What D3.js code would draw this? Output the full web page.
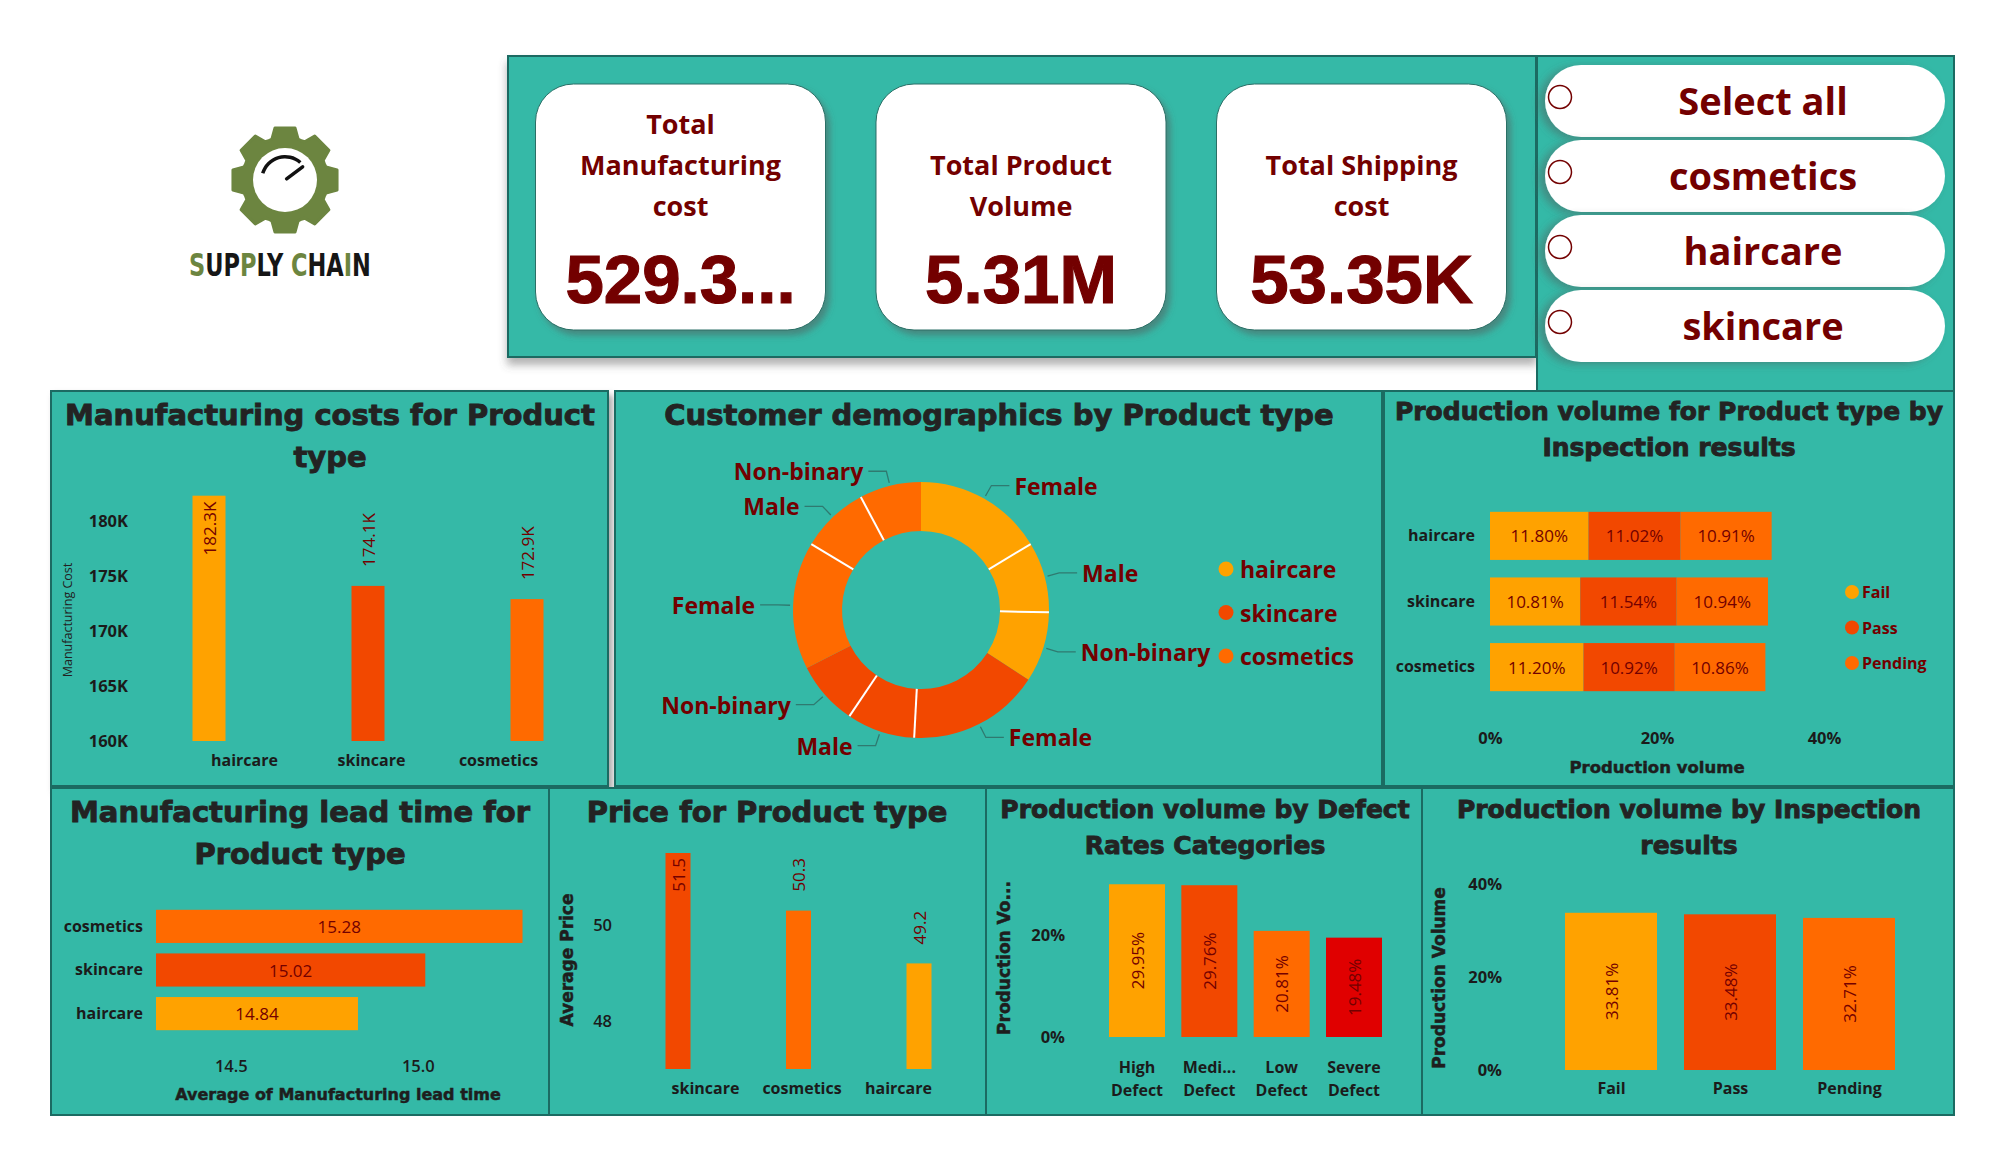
<!DOCTYPE html>
<html>
<head>
<meta charset="utf-8">
<script src="https://cdn.jsdelivr.net/npm/d3@7"></script>
<style>
  body { margin: 0; background: #fff; }
  svg text { font-family: "Open Sans", "Noto Sans", sans-serif; }
  .ttl { font-family: "DejaVu Sans", sans-serif !important; font-weight: bold; fill: #232323; stroke: #232323; stroke-width: 0.9px; }
  .axt { font-family: "DejaVu Sans", sans-serif !important; font-weight: bold; fill: #1e1e1e; stroke: #1e1e1e; stroke-width: 0.5px; }
</style>
</head>
<body>
<svg id="dash" width="1992" height="1152"></svg>
<script>
// ---- data ----
var productTypes = ['haircare', 'skincare', 'cosmetics'];
var typeColors = ['#FFA200', '#F24800', '#FF6A00'];

var kpiTitles = [['Total', 'Manufacturing', 'cost'], ['Total Product', 'Volume'], ['Total Shipping', 'cost']];
var kpiValues = ['529.3...', '5.31M', '53.35K'];

var slicerItems = ['Select all', 'cosmetics', 'haircare', 'skincare'];

var costTypes = ['haircare', 'skincare', 'cosmetics'];
var costValues = [182.3, 174.1, 172.9];          // thousands
var costTicks = [160, 165, 170, 175, 180];

var genders = ['Female', 'Male', 'Non-binary'];
var demoHaircare = [16.4, 8.9, 8.9];
var demoSkincare = [16.7, 8.6, 8.1];
var demoCosmetics = [16.1, 8.6, 7.8];

var inspResults = ['Fail', 'Pass', 'Pending'];
var inspHaircare = [11.80, 11.02, 10.91];
var inspSkincare = [10.81, 11.54, 10.94];
var inspCosmetics = [11.20, 10.92, 10.86];
var inspTicks = [0, 20, 40];

var leadTypes = ['cosmetics', 'skincare', 'haircare'];
var leadValues = [15.28, 15.02, 14.84];
var leadTicks = [14.5, 15.0];

var priceTypes = ['skincare', 'cosmetics', 'haircare'];
var priceValues = [51.5, 50.3, 49.2];
var priceTicks = [48, 50];

var defectCats = ['High Defect', 'Medium Defect', 'Low Defect', 'Severe Defect'];
var defectLabels = [['High', 'Defect'], ['Medi...', 'Defect'], ['Low', 'Defect'], ['Severe', 'Defect']];
var defectValues = [29.95, 29.76, 20.81, 19.48];
var defectColors = ['#FFA200', '#F24800', '#FF6A00', '#E00000'];
var defectTicks = [0, 20];

var inspTotals = [33.81, 33.48, 32.71];
var inspTotalTicks = [0, 20, 40];

// ---- setup ----
var svg = d3.select('#dash');
var TEAL = '#34B9A7', EDGE = '#1B6B62', MAROON = '#730000', INK = '#1b1b1b';

var typeColor = d3.scaleOrdinal().domain(productTypes).range(typeColors);
var inspColor = d3.scaleOrdinal().domain(inspResults).range(typeColors);
var defectColor = d3.scaleOrdinal().domain(defectCats).range(defectColors);

var defs = svg.append('defs');
function shadow(id, dx, dy, blur, op) {
  var f = defs.append('filter').attr('id', id)
    .attr('x', '-20%').attr('y', '-20%').attr('width', '140%').attr('height', '150%');
  f.append('feDropShadow').attr('dx', dx).attr('dy', dy).attr('stdDeviation', blur)
    .attr('flood-color', '#555').attr('flood-opacity', op);
}
shadow('sh-panel', 0, 7, 4, 0.45);
shadow('sh-card', 4, 5, 3, 0.5);
shadow('sh-pill', -6, 2, 4, 0.45);

function panel(x0, y0, x1, y1, filt) {
  var r = svg.append('rect').attr('x', x0).attr('y', y0)
    .attr('width', x1 - x0).attr('height', y1 - y0)
    .attr('fill', TEAL).attr('stroke', EDGE).attr('stroke-width', 2);
  if (filt) r.attr('filter', 'url(#' + filt + ')');
}

function title(lines, cx, y0, size, lh) {
  lines.forEach(function(t, i) {
    svg.append('text').attr('class', 'ttl')
      .attr('x', cx).attr('y', y0 + i * lh)
      .attr('text-anchor', 'middle').attr('dominant-baseline', 'central')
      .style('font-size', size + 'px').text(t);
  });
}

function axisTitle(s, x, y, size, rot) {
  svg.append('text').attr('class', 'axt')
    .attr('transform', 'translate(' + x + ',' + y + ')' + (rot ? ' rotate(-90)' : ''))
    .attr('text-anchor', 'middle').attr('dominant-baseline', 'central')
    .style('font-size', size + 'px').text(s);
}

function tidy(g, size, weight) {
  g.select('.domain').remove();
  g.selectAll('.tick line').remove();
  g.selectAll('.tick text').attr('fill', INK)
    .style('font-size', size + 'px').style('font-weight', weight || 700);
}

function vlabel(x, y, s, anchor, size) {
  svg.append('text')
    .attr('transform', 'translate(' + x + ',' + y + ') rotate(-90)')
    .attr('text-anchor', anchor).attr('dominant-baseline', 'central')
    .attr('fill', MAROON).style('font-size', size + 'px').text(s);
}

// ---- logo ----
var gx = 285, gy = 180;
var gearPts = [];
d3.range(8).forEach(function(i) {
  var a = i * Math.PI / 4;
  gearPts.push([a - 0.31, 43], [a - 0.19, 53], [a + 0.19, 53], [a + 0.31, 43], [a + Math.PI / 8, 42.5]);
});
svg.append('path')
  .attr('transform', 'translate(' + gx + ',' + gy + ')')
  .attr('d', d3.lineRadial().angle(function(d) { return d[0]; }).radius(function(d) { return d[1]; })
    .curve(d3.curveLinearClosed)(gearPts))
  .attr('fill', '#6C8540').attr('stroke', '#6C8540').attr('stroke-width', 3).attr('stroke-linejoin', 'round');
svg.append('circle').attr('cx', gx).attr('cy', gy).attr('r', 32).attr('fill', '#fff');
svg.append('path')
  .attr('transform', 'translate(' + gx + ',' + gy + ')')
  .attr('d', d3.arc()({ innerRadius: 21.5, outerRadius: 25, startAngle: -1.28, endAngle: 0.72 }))
  .attr('fill', '#111');
var na = 0.93;
svg.append('line')
  .attr('x1', gx + Math.sin(na) * 2).attr('y1', gy - Math.cos(na) * 2)
  .attr('x2', gx + Math.sin(na) * 22).attr('y2', gy - Math.cos(na) * 22)
  .attr('stroke', '#111').attr('stroke-width', 3.5).attr('stroke-linecap', 'round');

var logoText = svg.append('text').attr('transform', 'translate(280,276) scale(1,1.3)').attr('text-anchor', 'middle')
  .style('font-family', '"DejaVu Sans Condensed", "DejaVu Sans", sans-serif').style('font-weight', 'bold')
  .style('font-size', '25px');
[['S', 1], ['UP', 0], ['P', 1], ['LY ', 0], ['C', 1], ['HA', 0], ['I', 1], ['N', 0]].forEach(function(p) {
  logoText.append('tspan').attr('fill', p[1] ? '#6C8540' : '#161616').text(p[0]);
});

// ---- KPI panel ----
panel(508, 56, 1536, 357, 'sh-panel');
var cardX = d3.scalePoint().domain(d3.range(kpiValues.length)).range([680.5, 1361.5]);
kpiValues.forEach(function(v, i) {
  var cx = cardX(i);
  svg.append('rect').attr('x', cx - 145).attr('y', 84).attr('width', 290).attr('height', 246)
    .attr('rx', 38).attr('fill', '#fff').attr('stroke', '#2a6f66').attr('stroke-width', 1)
    .attr('filter', 'url(#sh-card)');
  var lines = kpiTitles[i];
  var startY = lines.length === 3 ? 123 : 164;
  lines.forEach(function(t, j) {
    svg.append('text').attr('x', cx).attr('y', startY + j * 41)
      .attr('text-anchor', 'middle').attr('dominant-baseline', 'central')
      .attr('fill', MAROON).style('font-size', '27px').style('font-weight', 700).text(t);
  });
  svg.append('text').attr('x', cx).attr('y', 279)
    .attr('text-anchor', 'middle').attr('dominant-baseline', 'central')
    .attr('fill', MAROON).attr('stroke', MAROON).attr('stroke-width', 1.2)
    .style('font-family', '"Liberation Sans", Arial, sans-serif')
    .style('font-weight', 'bold').style('font-size', '69px').text(v);
});

// ---- slicer ----
panel(1537, 56, 1954, 391);
var pillY = d3.scalePoint().domain(slicerItems).range([101, 326]);
slicerItems.forEach(function(s) {
  var cy = pillY(s);
  svg.append('rect').attr('x', 1545).attr('y', cy - 36).attr('width', 400).attr('height', 72)
    .attr('rx', 36).attr('fill', '#fff').attr('filter', 'url(#sh-pill)');
  svg.append('circle').attr('cx', 1560).attr('cy', cy - 4).attr('r', 11.5)
    .attr('fill', '#fff').attr('stroke', MAROON).attr('stroke-width', 1.5);
  svg.append('text').attr('x', 1763).attr('y', cy - 1)
    .attr('text-anchor', 'middle').attr('dominant-baseline', 'central')
    .attr('fill', MAROON).style('font-size', '38px').style('font-weight', 700).text(s);
});

// ---- panels ----
panel(51, 391, 608, 786, 'sh-card');
panel(615, 391, 1382, 786);
panel(1384, 391, 1954, 786);
panel(51, 788, 549, 1115);
panel(549, 788, 986, 1115);
panel(986, 788, 1422, 1115);
panel(1422, 788, 1954, 1115);

// ---- chart 1: manufacturing costs ----
title(['Manufacturing costs for Product', 'type'], 330, 415, 29, 42);
var y1 = d3.scaleLinear().domain([160, 180]).range([741, 521]);
var x1 = d3.scalePoint().domain(costTypes).range([209, 527]);
var x1lab = d3.scalePoint().domain(costTypes).range([244, 498]);
svg.append('g').attr('transform', 'translate(128,0)')
  .call(d3.axisLeft(y1).tickValues(costTicks).tickSize(0).tickPadding(0).tickFormat(function(d) { return d + 'K'; }))
  .call(tidy, 16.5, 700);
svg.append('g').attr('transform', 'translate(0,755)')
  .call(d3.axisBottom(x1lab).tickSize(0).tickPadding(0))
  .call(tidy, 16, 700);
svg.append('text').attr('transform', 'translate(67,620) rotate(-90)')
  .attr('text-anchor', 'middle').attr('dominant-baseline', 'central')
  .attr('fill', '#222').style('font-size', '12.5px').text('Manufacturing Cost');
costTypes.forEach(function(t, i) {
  var top = y1(costValues[i]);
  svg.append('rect').attr('x', x1(t) - 16.5).attr('y', top).attr('width', 33)
    .attr('height', y1(160) - top).attr('fill', typeColor(t));
  var s = costValues[i].toFixed(1) + 'K';
  if (top - 19 - 58 < 495) vlabel(x1(t), top + 6, s, 'end', 17);
  else vlabel(x1(t), top - 19, s, 'start', 17);
});

// ---- chart 2: customer demographics donut ----
title(['Customer demographics by Product type'], 999, 415, 29, 0);
var demoSeries = [demoHaircare, demoSkincare, demoCosmetics];
var pieData = [];
productTypes.forEach(function(t, ti) {
  genders.forEach(function(g, gi) {
    pieData.push({ type: t, gender: g, value: demoSeries[ti][gi], first: gi === 0 });
  });
});
var dcx = 921, dcy = 610;
var arcs = d3.pie().sort(null).value(function(d) { return d.value; })(pieData);
var arc2 = d3.arc().innerRadius(79).outerRadius(128);
var donut = svg.append('g').attr('transform', 'translate(' + dcx + ',' + dcy + ')');
donut.selectAll('path.slice').data(arcs).enter().append('path').attr('class', 'slice')
  .attr('d', arc2).attr('fill', function(d) { return typeColor(d.data.type); });
arcs.forEach(function(d) {
  if (!d.data.first) {
    var a = d.startAngle;
    donut.append('line')
      .attr('x1', Math.sin(a) * 79).attr('y1', -Math.cos(a) * 79)
      .attr('x2', Math.sin(a) * 128).attr('y2', -Math.cos(a) * 128)
      .attr('stroke', '#fff').attr('stroke-width', 2);
  }
  var m = (d.startAngle + d.endAngle) / 2;
  var side = Math.sin(m) >= 0 ? 1 : -1;
  var p1 = [Math.sin(m) * 131, -Math.cos(m) * 131];
  var p2 = [Math.sin(m) * 143, -Math.cos(m) * 143];
  var p3 = [p2[0] + side * 18, p2[1]];
  donut.append('polyline').attr('points', [p1, p2, p3].map(function(p) { return p.join(','); }).join(' '))
    .attr('fill', 'none').attr('stroke', '#2f7a70').attr('stroke-width', 1.3);
  donut.append('text').attr('x', p3[0] + side * 5).attr('y', p3[1])
    .attr('text-anchor', side > 0 ? 'start' : 'end').attr('dominant-baseline', 'central')
    .attr('fill', MAROON).style('font-size', '23px').style('font-weight', 700).text(d.data.gender);
});
var leg2 = d3.scalePoint().domain(productTypes).range([569, 656]);
productTypes.forEach(function(t) {
  svg.append('circle').attr('cx', 1226).attr('cy', leg2(t)).attr('r', 7.5).attr('fill', typeColor(t));
  svg.append('text').attr('x', 1240).attr('y', leg2(t)).attr('dominant-baseline', 'central')
    .attr('fill', MAROON).style('font-size', '23px').style('font-weight', 700).text(t);
});

// ---- chart 3: production volume by product type & inspection ----
title(['Production volume for Product type by', 'Inspection results'], 1669, 411, 25, 36);
var inspRows = [inspHaircare, inspSkincare, inspCosmetics].map(function(vals, i) {
  var row = { type: productTypes[i] };
  inspResults.forEach(function(k, j) { row[k] = vals[j]; });
  return row;
});
var x3 = d3.scaleLinear().domain([0, 40]).range([1490, 1824]);
var y3 = d3.scaleBand().domain(productTypes).range([479, 724]).paddingInner(0.267).paddingOuter(0.5);
var stacked = d3.stack().keys(inspResults)(inspRows);
stacked.forEach(function(layer) {
  layer.forEach(function(d) {
    svg.append('rect').attr('x', x3(d[0])).attr('y', y3(d.data.type))
      .attr('width', x3(d[1]) - x3(d[0])).attr('height', y3.bandwidth())
      .attr('fill', inspColor(layer.key));
    svg.append('text').attr('x', (x3(d[0]) + x3(d[1])) / 2).attr('y', y3(d.data.type) + y3.bandwidth() / 2)
      .attr('text-anchor', 'middle').attr('dominant-baseline', 'central')
      .attr('fill', MAROON).style('font-size', '17px').text(d.data[layer.key].toFixed(2) + '%');
  });
});
svg.append('g').attr('transform', 'translate(1475,0)')
  .call(d3.axisLeft(y3).tickSize(0).tickPadding(0)).call(tidy, 16, 700);
svg.append('g').attr('transform', 'translate(0,732)')
  .call(d3.axisBottom(x3).tickValues(inspTicks).tickSize(0).tickPadding(0).tickFormat(function(d) { return d + '%'; }))
  .call(tidy, 16.5, 700);
axisTitle('Production volume', 1657, 767, 16.5);
var leg3 = d3.scalePoint().domain(inspResults).range([592, 663]);
inspResults.forEach(function(k) {
  svg.append('circle').attr('cx', 1852).attr('cy', leg3(k)).attr('r', 7).attr('fill', inspColor(k));
  svg.append('text').attr('x', 1862).attr('y', leg3(k)).attr('dominant-baseline', 'central')
    .attr('fill', MAROON).style('font-size', '16px').style('font-weight', 700).text(k);
});

// ---- chart 4: manufacturing lead time ----
title(['Manufacturing lead time for', 'Product type'], 300, 812, 29, 42);
var x4 = d3.scaleLinear().domain([14.3, 15.3]).range([156, 530]);
var y4 = d3.scaleBand().domain(leadTypes).range([888, 1052]).paddingInner(0.24).paddingOuter(0.5);
leadTypes.forEach(function(t, i) {
  svg.append('rect').attr('x', x4(14.3)).attr('y', y4(t))
    .attr('width', x4(leadValues[i]) - x4(14.3)).attr('height', y4.bandwidth())
    .attr('fill', typeColor(t));
  svg.append('text').attr('x', (x4(14.3) + x4(leadValues[i])) / 2).attr('y', y4(t) + y4.bandwidth() / 2)
    .attr('text-anchor', 'middle').attr('dominant-baseline', 'central')
    .attr('fill', MAROON).style('font-size', '17px').text(leadValues[i].toFixed(2));
});
svg.append('g').attr('transform', 'translate(143,0)')
  .call(d3.axisLeft(y4).tickSize(0).tickPadding(0)).call(tidy, 16, 700);
svg.append('g').attr('transform', 'translate(0,1060)')
  .call(d3.axisBottom(x4).tickValues(leadTicks).tickSize(0).tickPadding(0).tickFormat(d3.format('.1f')))
  .call(tidy, 16.5, 600);
axisTitle('Average of Manufacturing lead time', 338, 1094, 16);

// ---- chart 5: price ----
title(['Price for Product type'], 767, 812, 29, 0);
var y5 = d3.scaleLinear().domain([48, 50]).range([1021, 925]);
var x5 = d3.scalePoint().domain(priceTypes).range([678, 919]);
var x5lab = d3.scalePoint().domain(priceTypes).range([705, 898]);
priceTypes.forEach(function(t, i) {
  var top = y5(priceValues[i]);
  svg.append('rect').attr('x', x5(t) - 12.5).attr('y', top).attr('width', 25)
    .attr('height', y5(47) - top).attr('fill', typeColor(t));
  var s = priceValues[i].toFixed(1);
  if (top - 19 - 40 < 850) vlabel(x5(t), top + 5, s, 'end', 17);
  else vlabel(x5(t), top - 19, s, 'start', 17);
});
svg.append('g').attr('transform', 'translate(612,0)')
  .call(d3.axisLeft(y5).tickValues(priceTicks).tickSize(0).tickPadding(0).tickFormat(d3.format('d')))
  .call(tidy, 16.5, 600);
svg.append('g').attr('transform', 'translate(0,1083)')
  .call(d3.axisBottom(x5lab).tickSize(0).tickPadding(0)).call(tidy, 16, 700);
axisTitle('Average Price', 567, 960, 17, true);

// ---- chart 6: defect rates ----
title(['Production volume by Defect', 'Rates Categories'], 1205, 809, 25, 36);
var y6 = d3.scaleLinear().domain([0, 20]).range([1037, 935]);
var x6 = d3.scalePoint().domain(defectCats).range([1137, 1354]);
defectCats.forEach(function(c, i) {
  var top = y6(defectValues[i]);
  svg.append('rect').attr('x', x6(c) - 28).attr('y', top).attr('width', 56)
    .attr('height', y6(0) - top).attr('fill', defectColor(c));
  vlabel(x6(c), (top + y6(0)) / 2, defectValues[i].toFixed(2) + '%', 'middle', 17);
  defectLabels[i].forEach(function(l, j) {
    svg.append('text').attr('x', x6(c)).attr('y', 1067 + j * 23)
      .attr('text-anchor', 'middle').attr('dominant-baseline', 'central')
      .attr('fill', INK).style('font-size', '16px').style('font-weight', 700).text(l);
  });
});
svg.append('g').attr('transform', 'translate(1065,0)')
  .call(d3.axisLeft(y6).tickValues(defectTicks).tickSize(0).tickPadding(0).tickFormat(function(d) { return d + '%'; }))
  .call(tidy, 16.5, 700);
axisTitle('Production Vo...', 1004, 958, 17, true);

// ---- chart 7: production volume by inspection ----
title(['Production volume by Inspection', 'results'], 1689, 809, 25, 36);
var y7 = d3.scaleLinear().domain([0, 40]).range([1070, 884]);
var x7 = d3.scalePoint().domain(inspResults).range([1611, 1849]);
inspResults.forEach(function(k, i) {
  var top = y7(inspTotals[i]);
  svg.append('rect').attr('x', x7(k) - 46).attr('y', top).attr('width', 92)
    .attr('height', y7(0) - top).attr('fill', inspColor(k));
  vlabel(x7(k), (top + y7(0)) / 2, inspTotals[i].toFixed(2) + '%', 'middle', 17);
});
svg.append('g').attr('transform', 'translate(1502,0)')
  .call(d3.axisLeft(y7).tickValues(inspTotalTicks).tickSize(0).tickPadding(0).tickFormat(function(d) { return d + '%'; }))
  .call(tidy, 16.5, 700);
svg.append('g').attr('transform', 'translate(0,1083)')
  .call(d3.axisBottom(x7).tickSize(0).tickPadding(0)).call(tidy, 16, 700);
axisTitle('Production Volume', 1439, 978, 17, true);
</script>
</body>
</html>
